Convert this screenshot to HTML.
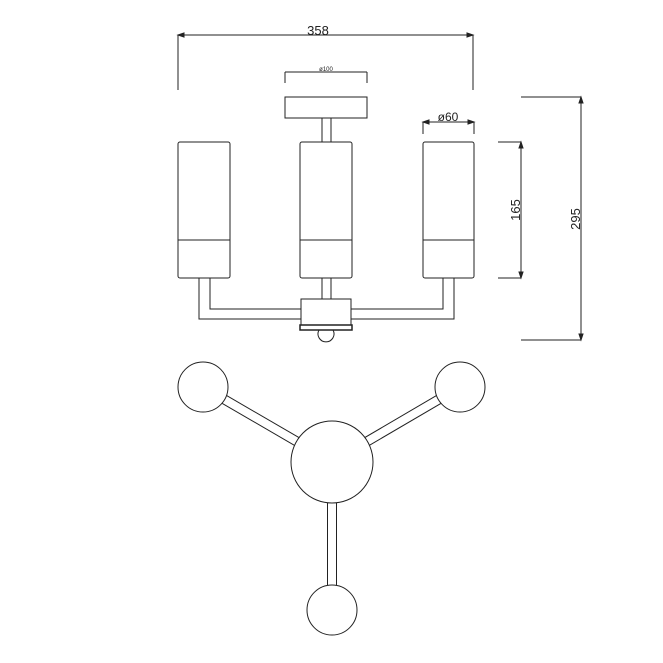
<!DOCTYPE html>
<html><head><meta charset="utf-8"><style>html,body{margin:0;padding:0;background:#fff}svg{display:block}</style></head><body>
<svg width="663" height="663" viewBox="0 0 663 663" xmlns="http://www.w3.org/2000/svg" font-family="Liberation Sans, sans-serif">
<g stroke="#222" fill="none" stroke-width="1">
<!-- 358 dim -->
<line x1="178" y1="35" x2="473" y2="35"/>
<line x1="178" y1="35" x2="178" y2="90"/>
<line x1="473" y1="35" x2="473" y2="90"/>
<path d="M178 35 l6 -2 v4z M473 35 l-6 -2 v4z" fill="#222"/>
<!-- ø100 -->
<line x1="285" y1="72" x2="367" y2="72"/>
<line x1="285" y1="72" x2="285" y2="83"/>
<line x1="367" y1="72" x2="367" y2="83"/>
<!-- canopy -->
<rect x="285" y="97" width="82" height="21"/>
<rect x="322" y="118" width="9" height="24"/>
<!-- shades -->
<rect x="178" y="142" width="52" height="136" rx="2"/>
<line x1="178" y1="240" x2="230" y2="240"/>
<rect x="300" y="142" width="52" height="136" rx="2"/>
<line x1="300" y1="240" x2="352" y2="240"/>
<rect x="423" y="142" width="51" height="136" rx="2"/>
<line x1="423" y1="240" x2="474" y2="240"/>
<!-- ø60 -->
<line x1="423" y1="122" x2="474" y2="122"/>
<line x1="423" y1="122" x2="423" y2="134"/>
<line x1="474" y1="122" x2="474" y2="134"/>
<path d="M423 122 l6 -2 v4z M474 122 l-6 -2 v4z" fill="#222"/>
<!-- arms -->
<path d="M199 278 V319 H301 M210 278 V309 H301"/>
<path d="M454 278 V319 H351 M443 278 V309 H351"/>
<rect x="322" y="278" width="9" height="21"/>
<rect x="301" y="299" width="50" height="26"/>
<rect x="300" y="325" width="52" height="5" stroke-width="1.5"/>
<path d="M319 330 A8 8 0 1 0 333 330"/>
<!-- 165 -->
<line x1="521" y1="142" x2="521" y2="278"/>
<line x1="498" y1="142" x2="521" y2="142"/>
<line x1="498" y1="278" x2="521" y2="278"/>
<path d="M521 142 l-2 6 h4z M521 278 l-2 -6 h4z" fill="#222"/>
<!-- 295 -->
<line x1="581" y1="97" x2="581" y2="340"/>
<line x1="521" y1="97" x2="581" y2="97"/>
<line x1="521" y1="340" x2="581" y2="340"/>
<path d="M581 97 l-2 6 h4z M581 340 l-2 -6 h4z" fill="#222"/>
</g>
<g fill="#222" stroke="none">
<text x="318" y="35" font-size="13" text-anchor="middle">358</text>
<text x="326" y="71" font-size="6" text-anchor="middle">ø100</text>
<text x="448" y="121" font-size="12" text-anchor="middle">ø60</text>
<text transform="translate(520 210) rotate(-90)" font-size="13" text-anchor="middle">165</text>
<text transform="translate(580 219) rotate(-90)" font-size="13" text-anchor="middle">295</text>
</g>
<!-- top view -->
<g stroke-linecap="butt">
<g stroke="#222" stroke-width="10">
<line x1="332" y1="462" x2="203" y2="387"/>
<line x1="332" y1="462" x2="460" y2="387"/>
<line x1="332" y1="462" x2="332" y2="610"/>
</g>
<g stroke="#fff" stroke-width="8">
<line x1="332" y1="462" x2="203" y2="387"/>
<line x1="332" y1="462" x2="460" y2="387"/>
<line x1="332" y1="462" x2="332" y2="610"/>
</g>
<g stroke="#222" fill="#fff" stroke-width="1">
<circle cx="332" cy="462" r="41"/>
<circle cx="203" cy="387" r="25"/>
<circle cx="460" cy="387" r="25"/>
<circle cx="332" cy="610" r="25"/>
</g>
</g>
</svg>
</body></html>
